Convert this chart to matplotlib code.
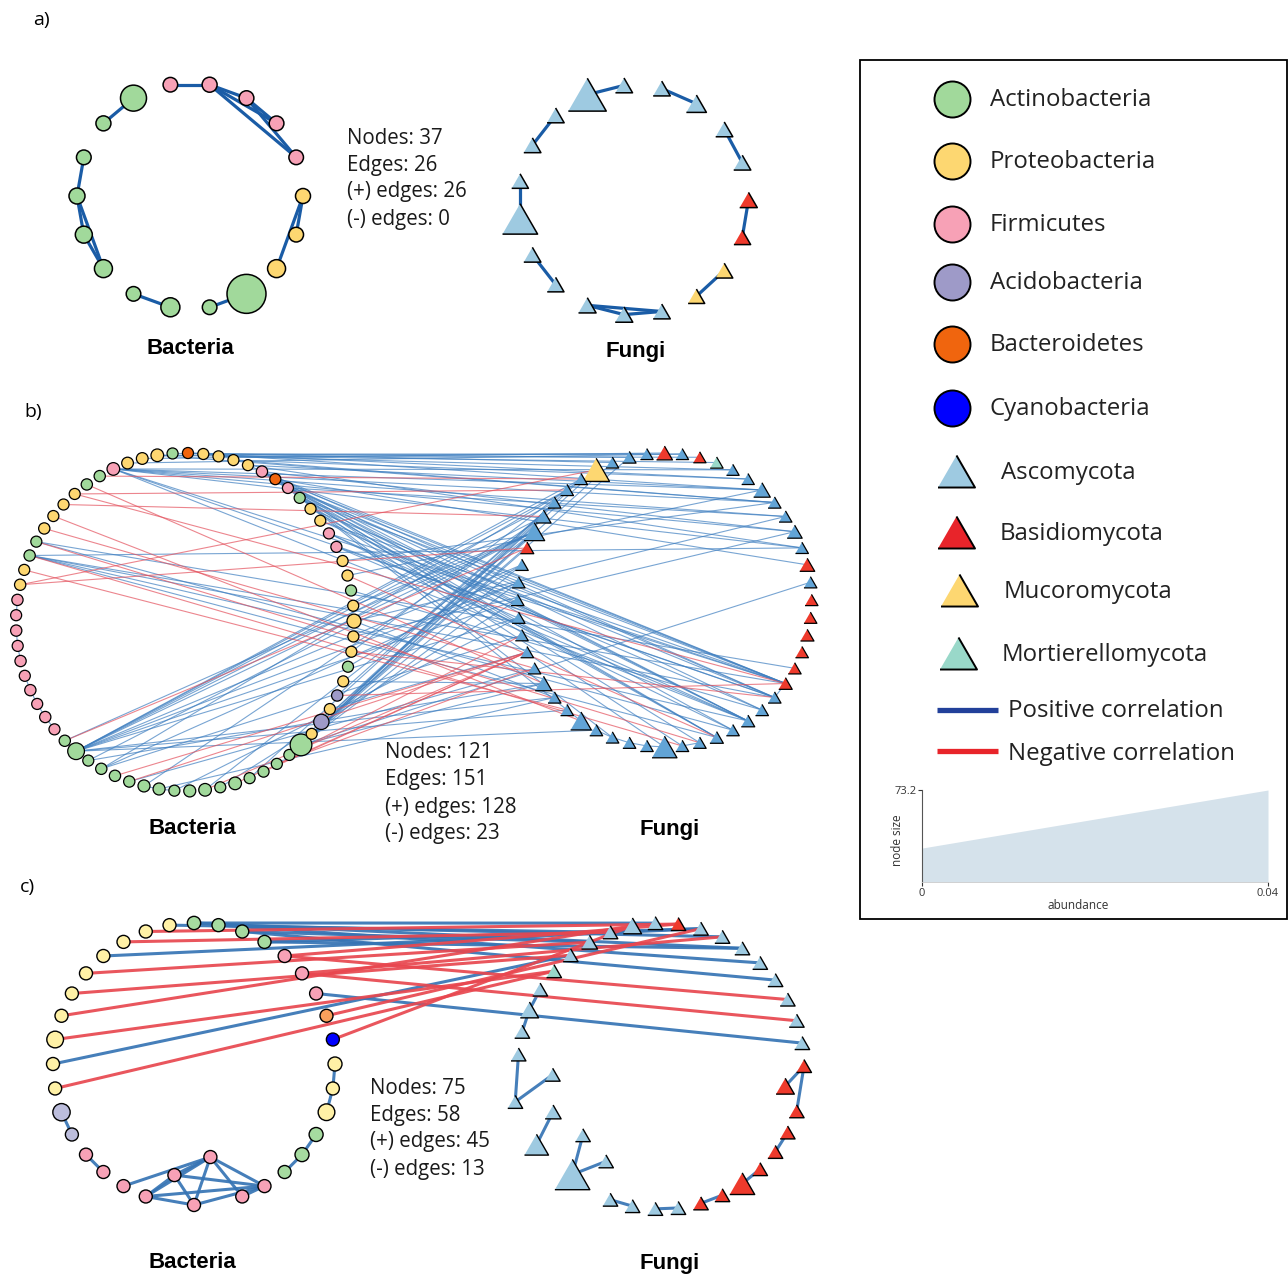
import matplotlib
matplotlib.use("Agg")
import matplotlib.pyplot as plt
import numpy as np
from matplotlib.collections import LineCollection

plt.rcParams['font.family'] = ['Open Sans', 'DejaVu Sans']

# Node tables: one character per node, in circle order (counter-clockwise).
# bacteria: A Actinobacteria, P Proteobacteria, F Firmicutes, C Acidobacteria,
#           B Bacteroidetes, Y Cyanobacteria
# fungi:    a Ascomycota, b Basidiomycota, m Mucoromycota, t Mortierellomycota

# ---- a) ----
a_bac_phyla = "PFFFFFAAAAAAAAAAPP"
a_bac_abund = [0.0009, 0.0002, 0.0004, 0.0005, 0.0009, 0.0002, 0.0187, 0.0009, 0.0004,
               0.0025, 0.0041, 0.0057, 0.0002, 0.0074, 0.0002, 0.0397, 0.0057, 0.0004]
a_fun_phyla = "baaaaaaaaaaaaaaammb"
a_fun_abund = [0.0014, 0.0007, 0.0007, 0.0048, 0.0007, 0.0007, 0.0300, 0.0007, 0.0007, 0.0002,
               0.0260, 0.0007, 0.0002, 0.0014, 0.0014, 0.0007, 0.0000, 0.0007, 0.0002]
a_bb_pos = [(6, 7), (5, 4), (4, 3), (4, 2), (4, 1), (3, 2), (3, 1), (8, 9), (9, 10), (9, 11),
            (10, 11), (12, 13), (14, 15), (0, 17), (0, 16)]
a_ff_pos = [(6, 5), (4, 3), (2, 1), (0, 18), (17, 16), (15, 14), (15, 13), (13, 14), (12, 11),
            (10, 9), (8, 7)]
a_bf_pos = []
a_bf_neg = []

# ---- b) ----
b_bac_phyla = "BAPPPFAAPPPPAAPP" + "FFFFFFFFFF" + "AA" + "AAAAAAAAAAAAAAA" + "A" + \
              "PCPCPAPPPPAPP" + "FFPPAFBF" + "PPPP"
b_bac_abund = [0.0005, 0.0005, 0.0040, 0.0020, 0.0020, 0.0040, 0.0010, 0.0010, 0.0005, 0.0005,
               0.0005, 0.0010, 0.0005, 0.0010, 0.0005, 0.0010, 0.0010, 0.0005, 0.0010, 0.0005,
               0.0010, 0.0005, 0.0010, 0.0005, 0.0010, 0.0005, 0.0010, 0.0128, 0.0005, 0.0010,
               0.0010, 0.0010, 0.0026, 0.0026, 0.0005, 0.0026, 0.0040, 0.0005, 0.0040, 0.0005,
               0.0005, 0.0005, 0.0005, 0.0236, 0.0003, 0.0097, 0.0005, 0.0010, 0.0005, 0.0005,
               0.0005, 0.0005, 0.0069, 0.0005, 0.0005, 0.0005, 0.0005, 0.0005, 0.0005, 0.0005,
               0.0005, 0.0005, 0.0005, 0.0005, 0.0010, 0.0005, 0.0005, 0.0005, 0.0005]
b_fun_phyla = "baaamaaaaab" + "aaaaaaaaaaaaaaaaaaaaaaa" + "bbbbbb" + "ab" + "aaaaaaa" + "tba"
b_fun_abund = [0.0067, 0.0005, 0.0020, 0.0005, 0.0268, 0.0010, 0.0010, 0.0010, 0.0049, 0.0156,
               0.0020, 0.0010, 0.0010, 0.0010, 0.0010, 0.0010, 0.0010, 0.0010, 0.0080, 0.0010,
               0.0010, 0.0156, 0.0010, 0.0010, 0.0010, 0.0010, 0.0236, 0.0010, 0.0010, 0.0020,
               0.0010, 0.0020, 0.0010, 0.0010, 0.0020, 0.0010, 0.0010, 0.0020, 0.0010, 0.0010,
               0.0010, 0.0049, 0.0010, 0.0049, 0.0010, 0.0010, 0.0080, 0.0005, 0.0005, 0.0010,
               0.0005, 0.0005]
b_bb_pos = [(16, 17), (18, 19), (19, 20), (21, 22), (22, 23), (23, 24), (24, 25), (32, 33),
            (33, 34), (26, 27)]
b_ff_pos = [(22, 23), (23, 24), (24, 25), (25, 26), (27, 28), (33, 34)]
b_bf_pos = [(5, 46), (5, 44), (5, 43), (5, 42), (5, 34), (5, 33), (5, 31), (5, 48), (5, 45),
            (13, 33), (13, 34), (13, 31), (13, 29), (13, 42), (12, 35), (12, 30),
            (2, 1), (2, 49), (2, 45), (1, 2), (0, 3), (0, 47), (3, 0), (4, 51),
            (27, 5), (27, 6), (27, 7), (27, 8), (27, 9), (27, 11), (27, 12), (27, 13), (27, 14),
            (27, 19), (27, 20), (27, 22),
            (28, 9), (28, 18), (29, 12), (29, 15), (29, 6), (26, 9), (31, 17), (32, 8), (33, 19),
            (34, 14), (36, 9), (37, 13), (39, 7),
            (43, 40), (43, 3), (43, 5), (43, 6), (43, 9), (43, 11), (43, 12), (43, 18), (43, 8),
            (43, 10),
            (44, 2), (45, 4), (45, 9), (46, 16), (47, 7), (48, 18), (49, 11), (50, 5), (51, 43),
            (52, 44), (52, 19), (53, 9), (54, 32), (55, 46), (56, 45),
            (57, 31), (57, 33), (58, 34), (58, 30), (58, 31), (59, 34), (59, 32), (60, 33), (60, 29),
            (61, 34), (61, 31), (61, 29), (61, 21), (62, 34), (62, 33), (62, 31), (62, 23), (62, 44),
            (63, 34), (63, 32), (63, 30), (63, 27), (63, 41), (64, 34), (64, 31), (64, 29), (64, 26),
            (64, 43), (64, 28),
            (65, 46), (65, 42), (65, 33), (66, 47), (66, 45), (67, 48), (67, 50), (68, 51), (68, 46)]
b_bf_neg = [(7, 18), (8, 34), (10, 21), (11, 17), (12, 28), (13, 27), (15, 4), (15, 10), (14, 20),
            (6, 5), (8, 6), (26, 10), (30, 16), (31, 16), (36, 16), (38, 16), (40, 16), (41, 17),
            (42, 15), (55, 29), (50, 33), (47, 34), (9, 8)]

# ---- c) ----
c_bac_phyla = "A" + "PPPPPPPPPP" + "CC" + "FFFFFFFFF" + "AAA" + "PPP" + "YB" + "FFF" + "AAA"
c_bac_abund = [0.0006, 0.0001, 0.0001, 0.0001, 0.0001, 0.0001, 0.0001, 0.0001, 0.0067, 0.0001,
               0.0001, 0.0079, 0.0001, 0.0001, 0.0000, 0.0001, 0.0001, 0.0001, 0.0001, 0.0001,
               0.0000, 0.0001, 0.0001, 0.0019, 0.0019, 0.0067, 0.0001, 0.0019, 0.0000, 0.0000,
               0.0001, 0.0001, 0.0001, 0.0001, 0.0001, 0.0001]
c_fun_phyla = "aaaaat" + "aaaaaaaaaaaaaaa" + "bbbbbbbbb" + "aaaaaaaa" + "b"
c_fun_abund = [0.0001, 0.0053, 0.0001, 0.0017, 0.0000, 0.0001, 0.0000, 0.0053, 0.0001, 0.0000,
               0.0000, 0.0000, 0.0017, 0.0143, 0.0000, 0.0315, 0.0000, 0.0000, 0.0000, 0.0001,
               0.0001, 0.0001, 0.0000, 0.0158, 0.0000, 0.0000, 0.0000, 0.0000, 0.0053, 0.0001,
               0.0001, 0.0001, 0.0000, 0.0001, 0.0000, 0.0001, 0.0001, 0.0001, 0.0000]
c_bb_pos = [(11, 12), (13, 14), (15, 19), (19, 17), (19, 21), (19, 16), (19, 18), (19, 20),
            (17, 21), (17, 16), (17, 18), (16, 21), (16, 18), (18, 21), (20, 21), (22, 23),
            (23, 24), (25, 26), (26, 27)]
c_ff_pos = [(29, 28), (29, 27), (26, 25), (24, 23), (22, 21), (17, 18), (19, 20), (15, 16),
            (15, 14), (13, 12), (11, 9), (11, 10), (6, 7), (7, 8)]
c_bf_pos = [(0, 0), (0, 35), (1, 2), (35, 34), (35, 36), (34, 33), (34, 3), (33, 35), (33, 37),
            (4, 37), (9, 4), (30, 30)]
c_bf_neg = [(32, 32), (32, 38), (31, 31), (31, 36), (29, 37), (28, 1), (2, 38), (3, 2), (5, 3),
            (6, 4), (7, 1), (8, 5), (10, 5)]

# network summaries
a_stats = [37, 26, 26, 0]
b_stats = [121, 151, 128, 23]
c_stats = [75, 58, 45, 13]

# node size legend: abundance -> node size
size_abund = [0, 0.04]
size_range = [27, 73.2]

bac_names = ["Actinobacteria", "Proteobacteria", "Firmicutes", "Acidobacteria",
             "Bacteroidetes", "Cyanobacteria"]
fun_names = ["Ascomycota", "Basidiomycota", "Mucoromycota", "Mortierellomycota"]

# ---------------------------------------------------------------------------
BAC_COL = {'A': '#a1d99b', 'P': '#fdd771', 'F': '#f7a1b6', 'C': '#9e9ac8',
           'B': '#f0650e', 'Y': '#0000ff'}
FUN_COL = {'a': '#9ecae1', 'b': '#ee3a2c', 'm': '#fdd771', 't': '#99d8c9'}
PX = 0.72   # points per pixel at dpi 100
TRI = [(-0.5, -0.433), (0.5, -0.433), (0.0, 0.433)]


def circle_xy(n, cx, cy, r, start, pull=None):
    ang = np.deg2rad(start + np.arange(n) * 360.0 / n)
    rr = np.full(n, float(r))
    for i, f in (pull or {}).items():
        rr[i] *= f
    return np.column_stack([cx + rr * np.cos(ang), cy - rr * np.sin(ang)])


def node_px(abund, k):
    a = np.clip(np.asarray(abund) / size_abund[1], 0, 1)
    return k * (size_range[0] + (size_range[1] - size_range[0]) * a)


def draw_network(ax, bpos, fpos, bphy, fphy, babund, fabund, k, bb, ff, bfp, bfn,
                 lw, blue, red, alpha, bcol, fcol, nlw):
    segs, cols = [], []
    for i, j in bb:
        segs.append([bpos[i], bpos[j]]); cols.append(blue)
    for i, j in ff:
        segs.append([fpos[i], fpos[j]]); cols.append(blue)
    for i, j in bfp:
        segs.append([bpos[i], fpos[j]]); cols.append(blue)
    for i, j in bfn:
        segs.append([bpos[i], fpos[j]]); cols.append(red)
    if segs:
        ax.add_collection(LineCollection(segs, colors=cols, linewidths=lw, alpha=alpha,
                                         zorder=1, capstyle='round'))
    bd = node_px(babund, k) * PX
    ax.scatter(bpos[:, 0], bpos[:, 1], s=bd ** 2, c=[bcol[p] for p in bphy],
               edgecolors='black', linewidths=nlw, zorder=3)
    fd = node_px(fabund, k) * 1.15 * PX
    ax.scatter(fpos[:, 0], fpos[:, 1], s=fd ** 2, c=[fcol[p] for p in fphy], marker=TRI,
               edgecolors='black', linewidths=nlw, zorder=3)


def stats_text(ax, x, y, vals):
    lines = ["Nodes: %d" % vals[0], "Edges: %d" % vals[1],
             "(+) edges: %d" % vals[2], "(-) edges: %d" % vals[3]]
    for i, s in enumerate(lines):
        ax.text(x, y + i * 27, s, fontsize=14.8, ha='left', va='center', color='#1a1a1a')


fig = plt.figure(figsize=(12.88, 12.75), dpi=100)
ax = fig.add_axes([0, 0, 1, 1])
ax.set_xlim(0, 1288)
ax.set_ylim(1275, 0)
ax.axis('off')

# a)
pa_b = circle_xy(len(a_bac_phyla), 190, 196, 113, 0)
pa_f = circle_xy(len(a_fun_phyla), 633.5, 200, 115, 0)
draw_network(ax, pa_b, pa_f, a_bac_phyla, a_fun_phyla, a_bac_abund, a_fun_abund, 0.535,
             a_bb_pos, a_ff_pos, a_bf_pos, a_bf_neg, 2.3, '#1a5ca6', '#e8474f', 1.0,
             BAC_COL, FUN_COL, 1.1)

# b)
pb_b = circle_xy(len(b_bac_phyla), 185, 622, 169, 89)
pb_f = circle_xy(len(b_fun_phyla), 664.5, 600, 147, 90)
draw_network(ax, pb_b, pb_f, b_bac_phyla, b_fun_phyla, b_bac_abund, b_fun_abund, 0.40,
             b_bb_pos, b_ff_pos, b_bf_pos, b_bf_neg, 0.8, '#3f7fc0', '#e4525e', 0.7,
             BAC_COL, dict(FUN_COL, a='#62a4d6'), 0.9)

# c)
pc_b = circle_xy(len(c_bac_phyla), 194, 1064, 141, 90, pull={17: 0.8, 19: 0.67})
pc_f = circle_xy(len(c_fun_phyla), 661, 1066, 143, 92.3,
                 pull={10: 0.76, 11: 1.05, 12: 0.82, 13: 1.03, 14: 0.73, 15: 0.98,
                       16: 0.77, 28: 0.88})
draw_network(ax, pc_b, pc_f, c_bac_phyla, c_fun_phyla, c_bac_abund, c_fun_abund, 0.48,
             c_bb_pos, c_ff_pos, c_bf_pos, c_bf_neg, 2.2, '#3674b4', '#e8474f', 0.92,
             dict(BAC_COL, A='#a6dba0', P='#fff1a6', C='#bcbddc', B='#f9a05c'),
             FUN_COL, 1.0)

# panel letters, titles and summaries
for x, y, s in [(33, 20, "a)"), (24, 412, "b)"), (20, 887, "c)")]:
    ax.text(x, y, s, fontsize=14, ha='left', va='center')
bold = dict(fontsize=16, fontweight='bold', family='Liberation Sans', ha='center', va='center')
for x, y, s in [(190, 349, "Bacteria"), (636, 351, "Fungi"), (192, 828, "Bacteria"),
                (670, 830, "Fungi"), (192, 1262, "Bacteria"), (670, 1264, "Fungi")]:
    ax.text(x, y, s, **bold)
stats_text(ax, 347, 138, a_stats)
stats_text(ax, 385, 753, b_stats)
stats_text(ax, 370, 1088, c_stats)

# legend box
ax.add_patch(plt.Rectangle((860, 60), 427, 859, fill=False, edgecolor='black', lw=1.3))
leg_bac_y = [100, 162, 225, 283, 345, 409]
for name, y in zip(bac_names, leg_bac_y):
    code = "APFCBY"[bac_names.index(name)]
    ax.scatter([952], [y - 1], s=(36 * PX) ** 2, c=BAC_COL[code], edgecolors='black',
               linewidths=1.4, zorder=3)
    ax.text(990, y, name, fontsize=17.3, ha='left', va='center', color='#222222')
leg_fun_y = [473, 534, 592, 655]
leg_fun_x = [956, 956, 959, 958]
leg_fun_tx = [1001, 1000, 1004, 1002]
leg_fun_col = ['#9ecae1', '#e8242a', '#fdd771', '#99d8c9']
for name, x, y, tx, col in zip(fun_names, leg_fun_x, leg_fun_y, leg_fun_tx, leg_fun_col):
    ax.scatter([x], [y - 2], s=(37 * PX) ** 2, c=col, marker=TRI, edgecolors='black',
               linewidths=1.4, zorder=3)
    ax.text(tx, y, name, fontsize=17.3, ha='left', va='center', color='#222222')
ax.plot([937, 998], [710, 710], color='#22409a', lw=3.8, solid_capstyle='butt')
ax.text(1008, 711, "Positive correlation", fontsize=17.3, ha='left', va='center', color='#222222')
ax.plot([937, 998], [751, 751], color='#e8242a', lw=3.8, solid_capstyle='butt')
ax.text(1008, 754, "Negative correlation", fontsize=17.3, ha='left', va='center', color='#222222')

# node size legend
sax = fig.add_axes([922 / 1288, 1 - 882 / 1275, 346 / 1288, 92 / 1275])
sax.fill_between(size_abund, [0, 0], size_range, color='#d5e2eb', lw=0)
sax.set_xlim(size_abund)
sax.set_ylim(0, size_range[1])
sax.set_xticks(size_abund)
sax.set_xticklabels(["0", "0.04"])
sax.set_yticks([size_range[1]])
sax.set_yticklabels(["73.2"])
sax.tick_params(labelsize=8, length=3, width=0.8, colors='#333333', pad=1)
sax.set_xlabel("abundance", fontsize=8.5, color='#333333')
sax.set_ylabel("node size", fontsize=8.5, color='#333333')
sax.xaxis.set_label_coords(0.45, -0.19)
sax.yaxis.set_label_coords(-0.052, 0.45)
for side in ['top', 'right']:
    sax.spines[side].set_visible(False)
sax.spines['left'].set_color('#555555')
sax.spines['bottom'].set_color('#cccccc')
sax.spines['left'].set_linewidth(0.8)
sax.spines['bottom'].set_linewidth(0.6)

fig.savefig("out.png", dpi=100)
